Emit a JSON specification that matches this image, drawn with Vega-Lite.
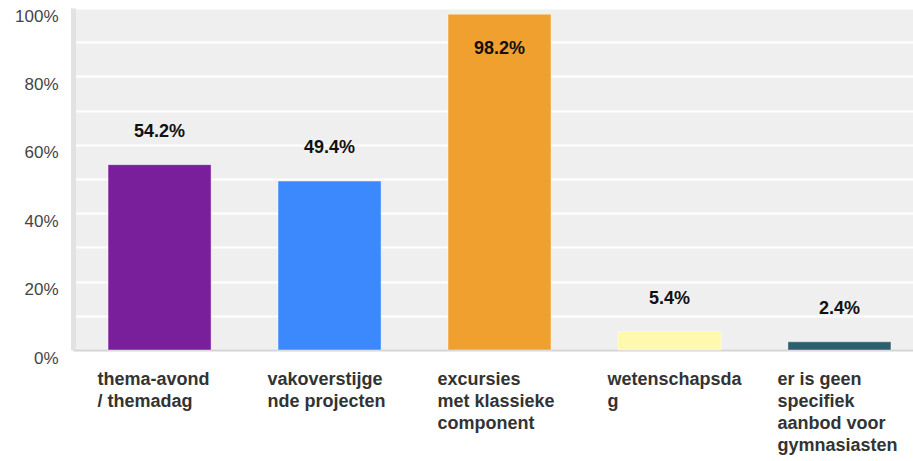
{
  "$schema": "https://vega.github.io/schema/vega-lite/v6.json",
  "width": 840,
  "height": 342,
  "autosize": {"type": "none"},
  "padding": {"left": 73, "top": 8, "right": 0, "bottom": 111},
  "background": "#ffffff",
  "config": {
    "view": {"fill": "#efefef", "stroke": null},
    "font": "Liberation Sans"
  },
  "data": {
    "values": [
      {"categorie": "thema-avond / themadag", "aandeel": 0.542, "kleur": "#7a1f9c"},
      {"categorie": "vakoverstijgende projecten", "aandeel": 0.494, "kleur": "#3b89fd"},
      {"categorie": "excursies met klassieke component", "aandeel": 0.982, "kleur": "#f0a02f"},
      {"categorie": "wetenschapsdag", "aandeel": 0.054, "kleur": "#fff9b0"},
      {"categorie": "er is geen specifiek aanbod voor gymnasiasten", "aandeel": 0.024, "kleur": "#2f5f6e"}
    ]
  },
  "encoding": {
    "x": {
      "field": "categorie",
      "type": "nominal",
      "sort": null,
      "scale": {"paddingInner": 0.394, "paddingOuter": 0.168, "align": 0.614},
      "axis": {
        "title": null,
        "labelAngle": 0,
        "labelAlign": "left",
        "labelBaseline": "top",
        "labelOffset": -62,
        "labelPadding": 20,
        "labelFontSize": 18,
        "labelFontWeight": "bold",
        "labelColor": "#333333",
        "labelLineHeight": 22,
        "labelLimit": 200,
        "ticks": false,
        "domainColor": "#d4d4d4",
        "domainWidth": 2,
        "labelExpr": "datum.label == 'thema-avond / themadag' ? ['thema-avond', '/ themadag'] : datum.label == 'vakoverstijgende projecten' ? ['vakoverstijge', 'nde projecten'] : datum.label == 'excursies met klassieke component' ? ['excursies', 'met klassieke', 'component'] : datum.label == 'wetenschapsdag' ? ['wetenschapsda', 'g'] : ['er is geen', 'specifiek', 'aanbod voor', 'gymnasiasten']"
      }
    },
    "y": {
      "field": "aandeel",
      "type": "quantitative",
      "scale": {"domain": [0, 1], "nice": false},
      "axis": {
        "title": null,
        "values": [0, 0.1, 0.2, 0.3, 0.4, 0.5, 0.6, 0.7, 0.8, 0.9, 1],
        "format": ".0%",
        "labelExpr": "round(datum.value * 100) % 20 == 0 ? datum.label : ''",
        "labelFontSize": 17,
        "labelColor": "#444444",
        "labelPadding": 15,
        "labelOffset": 8,
        "ticks": false,
        "domainColor": "#e2e2e2",
        "domainWidth": 5,
        "gridColor": "#ffffff",
        "gridWidth": 2,
        "gridOpacity": 1
      }
    }
  },
  "layer": [
    {
      "mark": {"type": "bar", "stroke": "#ffffff", "strokeOpacity": 0.4, "strokeWidth": 1},
      "encoding": {
        "color": {"field": "kleur", "type": "nominal", "scale": null, "legend": null}
      }
    },
    {
      "transform": [{"filter": "datum.aandeel < 0.9"}],
      "mark": {"type": "text", "dy": -33, "fontSize": 18, "fontWeight": "bold", "color": "#111111", "baseline": "middle"},
      "encoding": {"text": {"field": "aandeel", "type": "quantitative", "format": ".1%"}}
    },
    {
      "transform": [{"filter": "datum.aandeel >= 0.9"}],
      "mark": {"type": "text", "dy": 35, "fontSize": 18, "fontWeight": "bold", "color": "#111111", "baseline": "middle"},
      "encoding": {"text": {"field": "aandeel", "type": "quantitative", "format": ".1%"}}
    }
  ]
}
